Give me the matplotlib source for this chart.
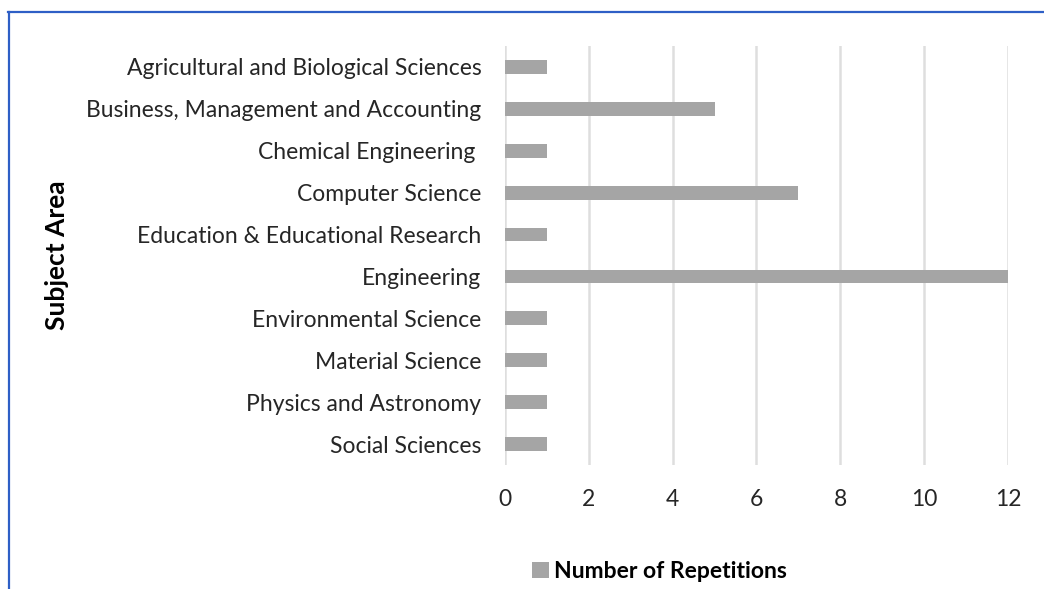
import matplotlib.pyplot as plt
from matplotlib.patches import Patch
from matplotlib.lines import Line2D

subjects = ['Agricultural and Biological Sciences',
            'Business, Management and Accounting',
            'Chemical Engineering ',
            'Computer Science',
            'Education & Educational Research',
            'Engineering',
            'Environmental Science',
            'Material Science',
            'Physics and Astronomy',
            'Social Sciences']
repetitions = [1, 5, 1, 7, 1, 12, 1, 1, 1, 1]
x_ticks = [0, 2, 4, 6, 8, 10, 12]

plt.rcParams['font.family'] = ['Lato', 'DejaVu Sans']

fig = plt.figure(figsize=(10.44, 5.89), dpi=100)
ax = fig.add_axes([0.4837, 0.2105, 0.4818, 0.7115])

pos = list(range(len(subjects)))
ax.barh(pos, repetitions, height=0.33, color='#a5a5a5', zorder=3)
ax.set_ylim(len(subjects) - 0.5, -0.5)
ax.set_xlim(0, 12)
ax.set_yticks(pos)
ax.set_yticklabels(subjects, fontsize=16.5, color='#262626')
ax.set_xticks(x_ticks)
ax.set_xticklabels([str(t) for t in x_ticks], fontsize=16.5, color='#262626')
ax.tick_params(length=0)
ax.tick_params(axis='y', pad=17)
ax.tick_params(axis='x', pad=17)
ax.grid(axis='x', color='#dedede', linewidth=1.8, zorder=0)
for s in ax.spines.values():
    s.set_visible(False)

fig.text(0.055, 0.567, 'Subject Area', rotation=90, ha='center', va='center',
         fontsize=19, fontweight='bold', color='black')

handle = Patch(facecolor='#a5a5a5')
fig.legend([handle], ['Number of Repetitions'], loc='center', bbox_to_anchor=(0.632, 0.03),
           frameon=False, prop={'size': 16.5, 'weight': 'bold'},
           handlelength=0.7, handleheight=0.7, handletextpad=0.25)

# blue frame lines
fig.add_artist(Line2D([0.008, 1.0], [1 - 11.5 / 589, 1 - 11.5 / 589], color='#2e5fc6', linewidth=1.6))
fig.add_artist(Line2D([8.5 / 1044, 8.5 / 1044], [0, 1 - 11.5 / 589], color='#2e5fc6', linewidth=1.6))

fig.savefig('out.png', dpi=100, facecolor='white')
